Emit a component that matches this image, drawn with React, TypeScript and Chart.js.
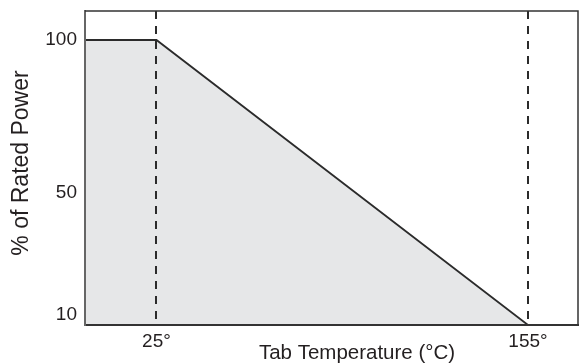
import React, { useEffect, useRef } from "react";
import { Chart, registerables } from "chart.js";

Chart.register(...registerables);

// Data
const temperatures = [0, 25, 155];
const ratedPower = [100, 100, 6.7];
const xTickValues = [25, 155];
const yTickValues = [10, 50, 100];
const xTitle = "Tab Temperature (°C)";
const yTitle = "% of Rated Power";

const FONT = '"Liberation Sans", Arial, Helvetica, sans-serif';
const INK = "#231f20";

const titlesPlugin = {
  id: "axisTitlesCustom",
  afterDraw(chart: any) {
    const { ctx, chartArea } = chart;
    ctx.save();
    ctx.fillStyle = INK;
    ctx.textAlign = "center";
    ctx.textBaseline = "middle";
    ctx.font = `20.5px ${FONT}`;
    ctx.fillText(xTitle, chartArea.left + 272, chartArea.bottom + 28);
    ctx.translate(chartArea.left - 63, (chartArea.top + chartArea.bottom) / 2 - 5);
    ctx.rotate(-Math.PI / 2);
    ctx.font = `23px ${FONT}`;
    ctx.fillText(yTitle, 0, 0);
    ctx.restore();
  },
};

const framePlugin = {
  id: "frameTopRight",
  afterDraw(chart: any) {
    const { ctx, chartArea } = chart;
    ctx.save();
    ctx.strokeStyle = "#333";
    ctx.lineWidth = 1.5;
    ctx.beginPath();
    ctx.moveTo(chartArea.left, chartArea.top);
    ctx.lineTo(chartArea.right, chartArea.top);
    ctx.lineTo(chartArea.right, chartArea.bottom);
    ctx.stroke();
    ctx.restore();
  },
};

export default function App() {
  const ref = useRef<HTMLCanvasElement | null>(null);
  useEffect(() => {
    if (!ref.current) return;
    const chart = new Chart(ref.current, {
      type: "line",
      data: {
        datasets: [
          {
            data: temperatures.map((t, i) => ({ x: t, y: ratedPower[i] })),
            borderColor: "#2b2b2b",
            borderWidth: 1.8,
            backgroundColor: "#e6e7e8",
            fill: "start",
            pointRadius: 0,
            tension: 0,
          },
        ],
      },
      options: {
        animation: false,
        responsive: false,
        events: [],
        layout: { padding: { top: 11, right: 1, left: 0, bottom: 0 } },
        plugins: { legend: { display: false }, tooltip: { enabled: false } },
        scales: {
          x: {
            type: "linear",
            min: 0,
            max: 172.5,
            afterBuildTicks: (s: any) => {
              s.ticks = xTickValues.map((v) => ({ value: v }));
            },
            afterFit: (s: any) => {
              s.height = 39;
              s.paddingLeft = 0;
              s.paddingRight = 0;
              s.paddingTop = 0;
              s.paddingBottom = 0;
            },
            ticks: {
              color: INK,
              font: { family: FONT, size: 19 },
              padding: 5,
              maxRotation: 0,
              autoSkip: false,
              callback: (v: any) => `${v}°`,
            },
            grid: { color: "#2b2b2b", lineWidth: 2, drawTicks: false, z: 1 },
            border: { display: true, color: "#333", width: 2, dash: [8, 7], z: 1 },
          },
          y: {
            type: "linear",
            min: 6.7,
            max: 109.5,
            afterBuildTicks: (s: any) => {
              s.ticks = yTickValues.map((v) => ({ value: v }));
            },
            afterFit: (s: any) => {
              s.width = 85;
              s.paddingLeft = 0;
              s.paddingRight = 0;
              s.paddingTop = 0;
              s.paddingBottom = 0;
            },
            ticks: {
              color: INK,
              font: { family: FONT, size: 19 },
              padding: 8,
              autoSkip: false,
            },
            grid: { display: false, drawTicks: false },
            border: { display: true, color: "#666", width: 2, z: 1 },
          },
        },
      },
      plugins: [titlesPlugin, framePlugin],
    });
    return () => chart.destroy();
  }, []);
  return (
    <div style={{ position: "absolute", left: 0, top: 0, width: 579, height: 364, background: "#fff" }}>
      <canvas ref={ref} width={579} height={364} />
    </div>
  );
}
